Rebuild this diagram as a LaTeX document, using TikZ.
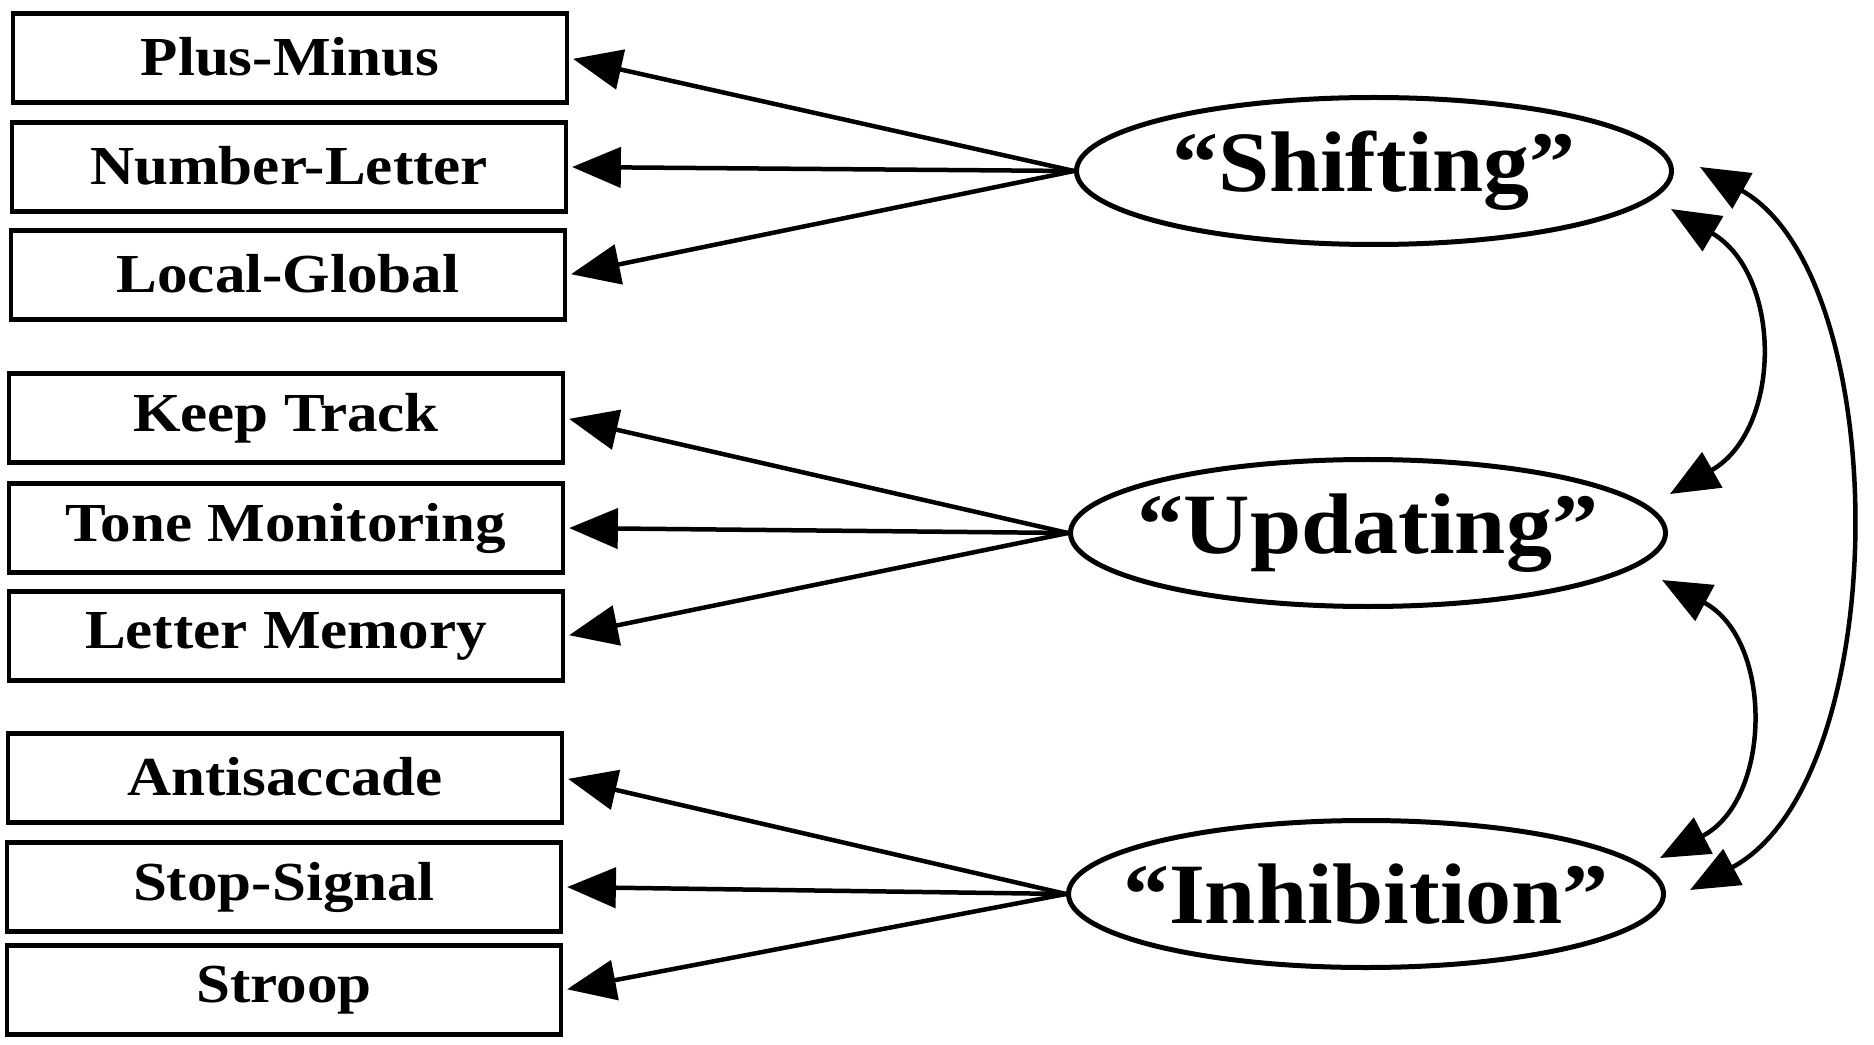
\documentclass[tikz,border=0pt]{standalone}
\usepackage{fontspec}
\usepackage{graphicx}
\setmainfont{Liberation Serif}
\usetikzlibrary{arrows.meta,calc,shapes.geometric}
% horizontally widened, slightly raised task labels
\newcommand{\tasklabel}[1]{\raisebox{1.6pt}{\scalebox{1.11}[1]{#1}}}
% factor labels take no width, so the ellipse keeps its set size
\newcommand{\factorlabel}[1]{\makebox[0pt]{\scalebox{1.07}[1]{#1}}}
\begin{document}
\begin{tikzpicture}[x=0.4pt,y=-0.4pt,
  task/.style={draw, line width=1.9pt, minimum width=221.6pt, minimum height=35.6pt,
    inner sep=0pt, font=\bfseries\fontsize{22}{24}\selectfont},
  factor/.style={draw, ellipse, line width=2pt, minimum width=238pt, minimum height=58.8pt,
    inner sep=0pt, font=\bfseries\fontsize{34.4}{36}\selectfont},
  head/.tip={Triangle[length=19.5pt,width=16pt]},
  load/.style={-head, line width=1.8pt, shorten >=1.5pt},
  corr/.style={head-head, line width=1.8pt}]
\useasboundingbox (0,0) rectangle (1874,1045);

% manifest tasks
\node[task] (pm) at (290,58)  {\tasklabel{Plus-Minus}};
\node[task] (nl) at (289,167) {\tasklabel{Number-Letter}};
\node[task] (lg) at (288,275) {\tasklabel{Local-Global}};
\node[task] (kt) at (286,418) {\tasklabel{Keep Track}};
\node[task] (tm) at (286,528) {\tasklabel{Tone Monitoring}};
\node[task] (lm) at (286,636) {\tasklabel{Letter Memory}};
\node[task] (as) at (285,778) {\tasklabel{Antisaccade}};
\node[task] (ss) at (284,887) {\tasklabel{Stop-Signal}};
\node[task] (st) at (284,990) {\tasklabel{Stroop}};

% latent factors
\node[factor] (S) at (1374,171) {\factorlabel{“Shifting”}};
\node[factor] (U) at (1368,533) {\factorlabel{“Updating”}};
\node[factor] (I) at (1366,894) {\factorlabel{“Inhibition”}};

% factor loadings
\draw[load] (S.west) -- (pm.east);
\draw[load] (S.west) -- (nl.east);
\draw[load] (S.west) -- (lg.east);
\draw[load] (U.west) -- (kt.east);
\draw[load] (U.west) -- (tm.east);
\draw[load] (U.west) -- (lm.east);
\draw[load] (I.west) -- (as.east);
\draw[load] (I.west) -- (ss.east);
\draw[load] (I.west) -- (st.east);

% factor correlations
\draw[corr] ($(S.east)+(-3,38)$) .. controls +(112,66) and +(112,-64) .. ($(U.east)+(2,-39)$);
\draw[corr] ($(U.east)+(-6,47)$) .. controls +(112,60) and +(112,-58) .. ($(I.east)+(-6,-36)$);
\draw[corr] ($(S.east)+(26,-4)$) .. controls +(195,110) and +(205,-110) .. ($(I.east)+(24,-4)$);
\end{tikzpicture}
\end{document}
